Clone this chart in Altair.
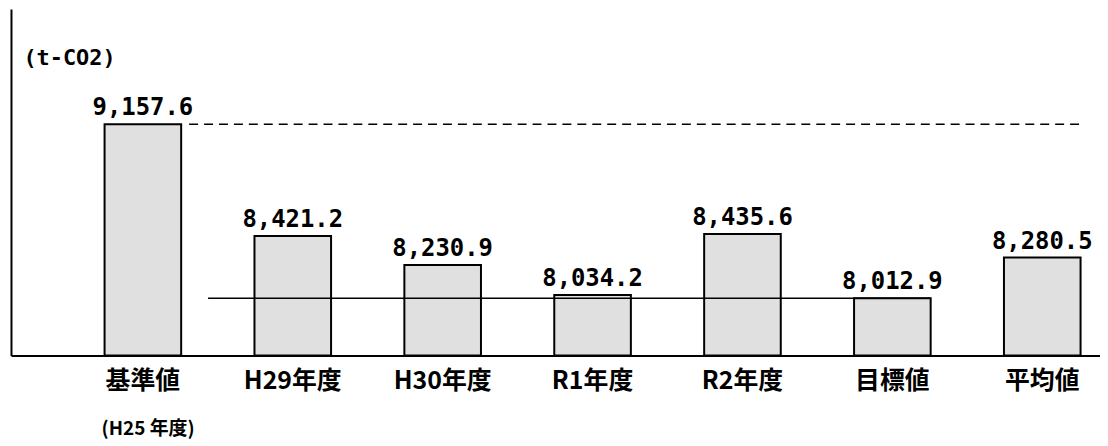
import altair as alt
import pandas as pd

categories = ["基準値", "H29年度", "H30年度", "R1年度", "R2年度", "目標値", "平均値"]
values = [9157.6, 8421.2, 8230.9, 8034.2, 8435.6, 8012.9, 8280.5]
unit_label = "(t-CO2)"
base_note = "(H25 年度)"

base_value = values[0]
target_value = values[5]

df = pd.DataFrame({"cat": categories, "val": values})
ref_df = pd.DataFrame({
    "start": ["基準値", "基準値"],
    "end": ["平均値", "目標値"],
    "val": [base_value, target_value],
    "kind": ["dash", "solid"],
})
note_df = pd.DataFrame({"cat": [categories[0]], "note": [base_note]})

ymin, ymax = 7636, 9916

xscale = alt.Scale(domain=categories, paddingInner=0.489, paddingOuter=0.377, align=0.828)
yscale = alt.Scale(domain=[ymin, ymax], zero=False, nice=False)

x_enc = alt.X("cat:N", scale=xscale, sort=categories,
              axis=alt.Axis(title=None, labelAngle=0, ticks=False, tickSize=0,
                            labelPadding=13, labelFont="Noto Sans CJK JP",
                            labelFontSize=25, labelFontWeight="bold", labelColor="black",
                            domainColor="black", domainWidth=2, grid=False))
y_enc = alt.Y("val:Q", scale=yscale,
              axis=alt.Axis(title=unit_label, titleAngle=0, titleAlign="left",
                            titleBaseline="middle", titleX=12, titleY=49,
                            titleFont="DejaVu Sans Mono", titleFontSize=22,
                            titleFontWeight="bold", titleColor="black",
                            labels=False, ticks=False, grid=False,
                            domainColor="black", domainWidth=2))

bars = alt.Chart(df).mark_bar(fill="#e0e0e0", stroke="black", strokeWidth=2).encode(
    x=x_enc, y=y_enc, y2=alt.datum(ymin)
)

dash_rule = alt.Chart(ref_df[ref_df.kind == "dash"]).mark_rule(
    color="black", strokeWidth=1.5, strokeDash=[9, 6], xOffset=8
).encode(
    x=alt.X("start:N", scale=xscale, bandPosition=1),
    x2=alt.X2("end:N", bandPosition=1),
    y=alt.Y("val:Q", scale=yscale),
)

solid_rule = alt.Chart(ref_df[ref_df.kind == "solid"]).mark_rule(
    color="black", strokeWidth=1.5, xOffset=27
).encode(
    x=alt.X("start:N", scale=xscale, bandPosition=1),
    x2=alt.X2("end:N", bandPosition=1),
    y=alt.Y("val:Q", scale=yscale),
)

labels = alt.Chart(df).mark_text(
    font="DejaVu Sans Mono", fontSize=24, fontWeight="bold",
    baseline="alphabetic", dy=-9, color="black"
).encode(
    x=alt.X("cat:N", scale=xscale, sort=categories),
    y=alt.Y("val:Q", scale=yscale),
    text=alt.Text("val:Q", format=",.1f"),
)

note = alt.Chart(note_df).mark_text(
    font="Noto Sans CJK JP", fontSize=19, fontWeight="bold", align="left",
    baseline="middle", dx=-3, dy=74, color="black"
).encode(
    x=alt.X("cat:N", scale=xscale, bandPosition=0),
    y=alt.datum(ymin, scale=yscale),
    text="note:N",
)

chart = alt.layer(bars, dash_rule, solid_rule, labels, note).properties(
    width=1094, height=348,
    padding={"left": 3, "top": 0, "right": 0, "bottom": 88},
    autosize=alt.AutoSizeParams(type="none"),
).configure(background="white").configure_view(stroke=None, strokeWidth=0)

chart.save("out.html", embed_options={"renderer": "svg", "actions": False})
